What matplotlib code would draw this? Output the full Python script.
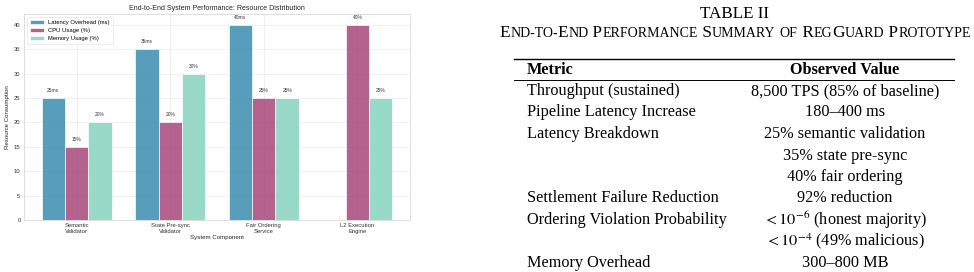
import numpy as np
import matplotlib
matplotlib.use('Agg')
import matplotlib.pyplot as plt

# chart data
components = ['Semantic\nValidator', 'State Pre-sync\nValidator', 'Fair Ordering\nService', 'L2 Execution\nEngine']
latency_ms = [25, 35, 40, 0]
cpu_pct = [15, 20, 25, 40]
memory_pct = [20, 30, 25, 25]

# table data
table_title = 'TABLE II'
table_subtitle = 'End-to-End Performance Summary of RegGuard Prototype'
table_header = ['Metric', 'Observed Value']
table_metrics = ['Throughput (sustained)', 'Pipeline Latency Increase', 'Latency Breakdown', '', '',
                 'Settlement Failure Reduction', 'Ordering Violation Probability', '', 'Memory Overhead']
table_values = ['8,500 TPS (85% of baseline)', '180\u2013400 ms', '25% semantic validation',
                '35% state pre-sync', '40% fair ordering', '92% reduction',
                r'$<10^{-6}$ (honest majority)', r'$<10^{-4}$ (49% malicious)', '300\u2013800 MB']

plt.rcParams['mathtext.fontset'] = 'stix'

W, H = 974, 272
fig = plt.figure(figsize=(W / 100, H / 100), dpi=100)
fig.patch.set_facecolor('white')

# ---- bar chart ----
sans = ['Liberation Sans', 'DejaVu Sans']
ax = fig.add_axes([24 / W, 1 - 220 / H, (410 - 24) / W, (220 - 14) / H])
x = np.arange(len(components))
w = 0.25
b1 = ax.bar(x - w, latency_ms, w, color='#2E86AB', alpha=0.8, edgecolor='white', linewidth=0.6,
            label='Latency Overhead (ms)')
b2 = ax.bar(x, cpu_pct, w, color='#A23B72', alpha=0.8, edgecolor='white', linewidth=0.6,
            label='CPU Usage (%)')
b3 = ax.bar(x + w, memory_pct, w, color='#7FD1B9', alpha=0.8, edgecolor='white', linewidth=0.6,
            label='Memory Usage (%)')

for bars, vals, unit in [(b1, latency_ms, 'ms'), (b2, cpu_pct, '%'), (b3, memory_pct, '%')]:
    for bar, v in zip(bars, vals):
        if v > 0:
            ax.text(bar.get_x() + bar.get_width() / 2, v + 1.0, f'{v}{unit}', ha='center', va='bottom',
                    fontsize=3.5, color='#333333', family=sans)

ax.set_ylim(0, 42.2)
ax.set_yticks(range(0, 45, 5))
ax.set_xticks(x)
ax.set_xticklabels(components, fontsize=4.2, family=sans, color='#333333', linespacing=1.1)
ax.tick_params(axis='y', labelsize=4.2, labelcolor='#333333')
ax.tick_params(length=0, pad=2.5)
for lab in ax.get_yticklabels():
    lab.set_family(sans)
ax.set_xlabel('System Component', fontsize=4.4, family=sans, color='#222222', labelpad=1)
ax.set_ylabel('Resource Consumption', fontsize=4.4, family=sans, color='#222222', labelpad=3)
ax.set_title('End-to-End System Performance: Resource Distribution', fontsize=5, family=sans,
             color='#222222', pad=3)
ax.grid(True, color='#dddddd', linewidth=0.5, alpha=0.6)
ax.set_axisbelow(True)
for s in ax.spines.values():
    s.set_color('#dddddd')
    s.set_linewidth(0.7)
leg = ax.legend(loc='upper left', prop={'family': sans, 'size': 4.2}, frameon=True,
                handlelength=2.4, handleheight=0.6, borderpad=0.5, labelspacing=0.55)
leg.get_frame().set_edgecolor('#dddddd')
leg.get_frame().set_linewidth(0.5)

# ---- table ----
serif = ['Liberation Serif', 'DejaVu Serif']
fs = 11.7

def fx(px):
    return px / W

def fy(py):
    return 1 - py / H

x_center = 735
fig.text(fx(x_center), fy(14), table_title, ha='center', va='center', fontsize=12.3, family=serif)

# small caps subtitle, drawn as runs of full-size and reduced capitals
sub_fs = 12.45
small_fs = sub_fs * 0.8
renderer = fig.canvas.get_renderer()
runs = []
for ch in table_subtitle:
    size = small_fs if (ch.islower() or ch == '-') else sub_fs
    if runs and runs[-1][1] == size:
        runs[-1][0] += ch.upper()
    else:
        runs.append([ch.upper(), size])
widths = []
for txt, size in runs:
    t = fig.text(0, 0, txt.replace(' ', '\u00a0'), fontsize=size, family=serif)
    widths.append(t.get_window_extent(renderer).width)
    t.remove()
start = x_center - sum(widths) / 2
for (txt, size), wd in zip(runs, widths):
    fig.text(fx(start), fy(37), txt.replace(' ', '\u00a0'), ha='left', va='baseline', fontsize=size,
             family=serif)
    start += wd

x_left, x_right = 514, 954
x_metric, x_value = 527, 845
fig.add_artist(plt.Line2D([fx(x_left), fx(x_right)], [fy(59), fy(59)], color='black', linewidth=1.0))
fig.add_artist(plt.Line2D([fx(x_left), fx(x_right)], [fy(80), fy(80)], color='black', linewidth=0.7))
fig.text(fx(x_metric), fy(69.5), table_header[0], ha='left', va='center', fontsize=fs,
         family=serif, weight='bold')
fig.text(fx(x_value), fy(69.5), table_header[1], ha='center', va='center', fontsize=fs,
         family=serif, weight='bold')

row_y = 91
for m, v in zip(table_metrics, table_values):
    if m:
        fig.text(fx(x_metric), fy(row_y), m, ha='left', va='center', fontsize=fs, family=serif)
    fig.text(fx(x_value), fy(row_y), v, ha='center', va='center', fontsize=fs, family=serif)
    row_y += 21.5

fig.savefig('out.png', dpi=100, facecolor='white')
